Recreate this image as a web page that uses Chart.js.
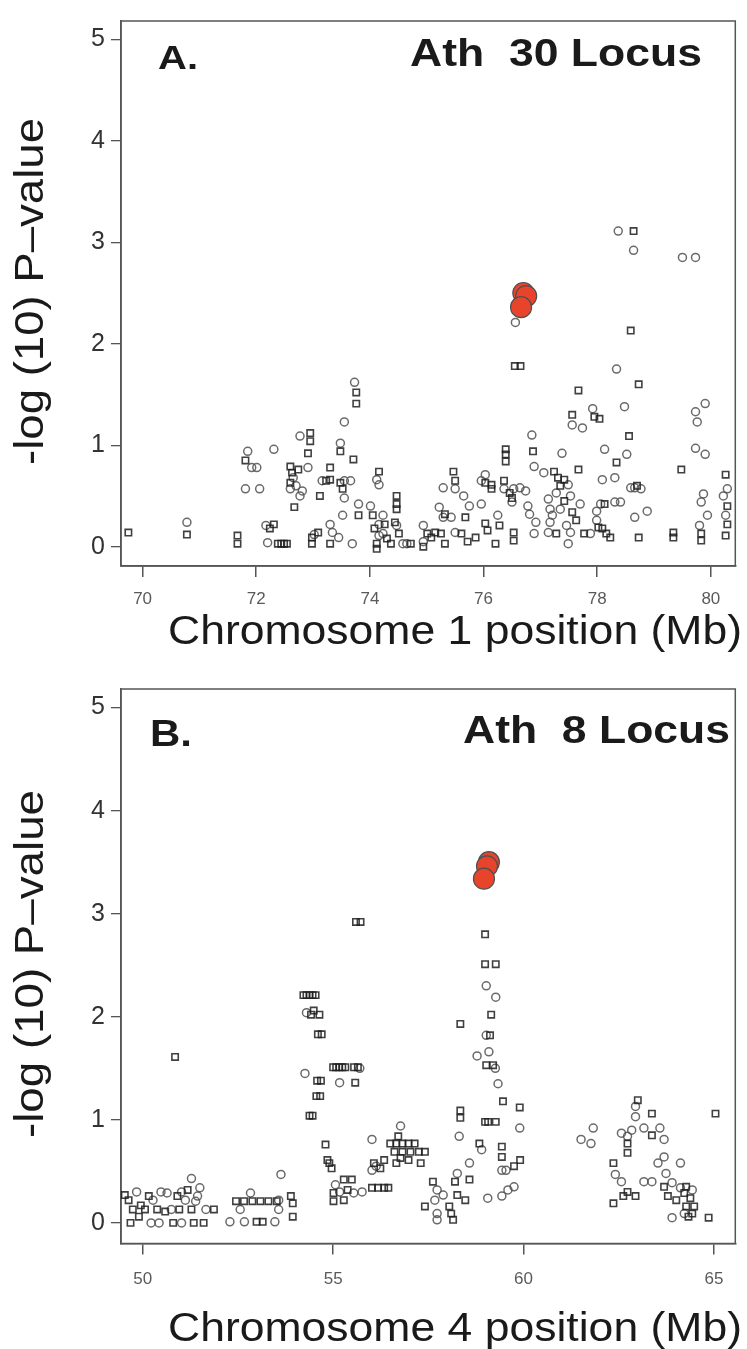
<!DOCTYPE html>
<html>
<head>
<meta charset="utf-8">
<script src="https://cdn.jsdelivr.net/npm/chart.js@4"></script>
<style>
  html, body { margin: 0; padding: 0; background: #fff; }
  .panel { position: absolute; left: 0; width: 747px; }
  #wrapA { top: 0; height: 656px; }
  #wrapB { top: 656px; height: 693px; }
</style>
</head>
<body>
<div class="panel" id="wrapA"><canvas id="chartA" width="747" height="656"></canvas></div>
<div class="panel" id="wrapB"><canvas id="chartB" width="747" height="693"></canvas></div>
<script>
const FONT = '"Liberation Sans", Arial, Helvetica, sans-serif';

// tick labels
const yTicks = [0, 1, 2, 3, 4, 5];
const aXTicks = [70, 72, 74, 76, 78, 80];
const bXTicks = [50, 55, 60, 65];

// panel A: chromosome 1 (Mb, -log10 p)
const aSquares = [[69.75,0.14],[70.78,0.12],[71.67,0.11],[71.67,0.03],[71.81,0.85],[72.31,0.22],[72.24,0.18],[72.38,0.03],[72.44,0.03],[72.49,0.03],[72.54,0.03],[72.60,0.79],[72.63,0.73],[72.60,0.63],[72.74,0.76],[72.67,0.39],[72.95,1.12],[72.95,1.04],[72.91,0.92],[72.98,0.09],[73.09,0.14],[72.98,0.03],[73.12,0.50],[73.23,0.65],[73.30,0.66],[73.30,0.78],[73.30,0.03],[73.48,0.94],[73.48,0.63],[73.52,0.57],[73.76,1.52],[73.76,1.41],[73.71,0.86],[73.80,0.31],[74.08,0.18],[74.26,0.22],[74.30,0.08],[74.37,0.03],[74.44,0.24],[74.51,0.13],[74.72,0.03],[74.12,0.03],[74.12,-0.02],[74.05,0.31],[74.47,0.50],[74.47,0.42],[74.47,0.37],[74.16,0.74],[74.94,0.0],[75.01,0.13],[75.08,0.09],[75.15,0.14],[75.25,0.13],[75.32,0.03],[75.32,0.32],[75.47,0.74],[75.50,0.65],[75.61,0.13],[75.72,0.05],[75.86,0.09],[75.68,0.29],[76.03,0.63],[76.14,0.61],[76.14,0.57],[76.03,0.23],[76.07,0.16],[76.28,0.21],[76.21,0.03],[76.36,0.65],[76.39,0.96],[76.39,0.91],[76.39,0.84],[76.46,0.53],[76.50,0.48],[76.53,0.14],[76.53,0.06],[76.55,1.78],[76.65,1.78],[76.87,0.94],[77.24,0.74],[77.31,0.68],[77.35,0.60],[77.42,0.66],[77.42,0.45],[77.28,0.13],[77.56,0.34],[77.63,0.26],[77.56,1.30],[77.67,1.54],[77.67,0.76],[77.77,0.13],[77.95,1.28],[78.04,1.26],[78.13,0.42],[78.02,0.19],[78.09,0.18],[78.16,0.13],[78.23,0.09],[78.34,0.83],[78.56,1.09],[78.73,1.60],[78.70,0.60],[78.73,0.09],[78.64,3.11],[78.59,2.13],[79.34,0.14],[79.34,0.09],[79.48,0.76],[79.83,0.13],[79.83,0.06],[80.26,0.71],[80.29,0.40],[80.29,0.22],[80.26,0.11]];
const aCircles = [[70.78,0.24],[71.85,0.94],[71.92,0.78],[72.01,0.78],[71.81,0.57],[72.06,0.57],[72.31,0.96],[72.17,0.21],[72.20,0.04],[72.65,0.68],[72.70,0.60],[72.60,0.57],[72.77,0.50],[72.81,0.55],[72.77,1.09],[72.91,0.78],[73.02,0.12],[73.16,0.65],[73.30,0.22],[73.34,0.14],[73.45,0.09],[73.52,0.31],[73.48,1.02],[73.55,1.23],[73.55,0.65],[73.66,0.65],[73.55,0.48],[73.69,0.03],[73.73,1.62],[73.80,0.42],[74.16,0.11],[74.23,0.13],[74.47,0.21],[74.58,0.03],[74.65,0.03],[74.01,0.40],[74.16,0.22],[74.23,0.31],[74.12,0.66],[74.16,0.61],[74.94,0.21],[74.94,0.05],[75.29,0.29],[75.29,0.58],[75.50,0.57],[75.65,0.50],[75.22,0.39],[75.43,0.29],[75.50,0.14],[75.75,0.40],[75.96,0.42],[76.03,0.71],[75.96,0.65],[76.25,0.31],[76.36,0.57],[76.53,0.57],[76.50,0.44],[76.56,2.21],[76.64,0.58],[76.74,0.55],[76.85,1.10],[76.89,0.79],[76.78,0.40],[76.81,0.32],[76.92,0.24],[76.89,0.13],[77.06,0.73],[77.14,0.47],[77.17,0.37],[77.28,0.53],[77.49,0.61],[77.53,0.50],[77.35,0.37],[77.21,0.31],[77.17,0.24],[77.14,0.14],[77.46,0.21],[77.53,0.14],[77.38,0.92],[77.49,0.03],[77.56,1.20],[77.74,1.17],[77.70,0.42],[77.88,0.13],[77.92,1.36],[77.99,0.35],[78.06,0.42],[77.99,0.26],[78.13,0.96],[78.09,0.66],[78.31,0.68],[78.31,0.44],[78.41,0.44],[78.48,1.38],[78.52,0.91],[78.34,1.75],[78.37,3.11],[78.64,2.92],[78.59,0.58],[78.66,0.58],[78.77,0.57],[78.66,0.29],[78.88,0.35],[79.50,2.85],[79.73,2.85],[79.73,1.33],[79.76,1.23],[79.90,1.41],[79.73,0.97],[79.90,0.91],[79.87,0.52],[79.83,0.44],[79.94,0.31],[79.80,0.21],[80.29,0.57],[80.22,0.50],[80.26,0.31]];
const aLead = [[76.70,2.50],[76.75,2.47],[76.66,2.36]];

// panel B: chromosome 4
const bSquares = [[49.53,0.27],[49.63,0.22],[49.95,0.17],[49.74,0.13],[49.90,0.06],[49.68,0.0],[50.16,0.26],[50.06,0.13],[50.38,0.13],[50.59,0.11],[50.80,0.0],[50.91,0.26],[50.96,0.13],[51.18,0.32],[51.28,0.13],[51.34,0.0],[51.87,0.13],[51.60,0.0],[50.85,1.61],[52.45,0.21],[52.66,0.21],[52.88,0.21],[53.09,0.21],[53.30,0.21],[53.52,0.21],[52.99,0.01],[53.15,0.01],[53.89,0.26],[53.94,0.19],[53.94,0.06],[54.22,2.21],[54.30,2.21],[54.38,2.21],[54.46,2.21],[54.54,2.21],[54.49,2.06],[54.42,2.02],[54.64,2.02],[54.60,1.83],[54.70,1.83],[54.58,1.38],[54.68,1.38],[54.56,1.23],[54.66,1.23],[54.38,1.04],[54.46,1.04],[55.00,1.51],[55.08,1.51],[55.16,1.51],[55.24,1.51],[55.32,1.51],[55.55,1.51],[55.65,1.51],[55.58,1.36],[55.60,2.92],[55.72,2.92],[54.80,0.76],[54.85,0.61],[54.90,0.58],[54.96,0.53],[55.28,0.42],[55.49,0.42],[55.01,0.29],[55.38,0.32],[55.01,0.21],[55.28,0.22],[56.07,0.58],[56.24,0.53],[56.34,0.61],[56.02,0.34],[56.18,0.34],[56.34,0.34],[56.45,0.34],[56.71,0.84],[56.50,0.77],[56.66,0.77],[56.82,0.77],[56.98,0.77],[57.14,0.77],[56.61,0.69],[56.82,0.69],[57.03,0.69],[57.25,0.69],[57.41,0.69],[56.77,0.63],[56.66,0.58],[56.98,0.61],[57.30,0.58],[57.41,0.16],[57.62,0.40],[58.05,0.16],[58.10,0.09],[58.15,0.03],[58.20,0.40],[58.26,0.27],[58.47,0.22],[58.58,0.42],[58.34,1.93],[58.34,1.09],[58.34,1.02],[58.84,0.77],[58.99,0.98],[59.07,0.98],[59.27,0.98],[58.99,2.80],[58.99,2.51],[59.27,2.51],[59.15,2.02],[59.12,1.82],[59.02,1.53],[59.20,1.53],[59.46,1.18],[59.90,1.12],[59.91,0.61],[59.75,0.55],[59.43,0.74],[59.43,0.64],[62.36,0.58],[62.73,0.30],[62.94,0.26],[62.36,0.19],[62.62,0.26],[62.73,0.77],[62.73,0.68],[63.00,1.19],[63.37,1.06],[63.37,0.85],[63.69,0.35],[64.27,0.35],[63.79,0.26],[64.01,0.22],[64.22,0.29],[64.27,0.16],[64.38,0.24],[64.48,0.16],[64.43,0.09],[64.33,0.06],[64.86,0.05],[65.04,1.06]];
const bCircles = [[49.84,0.30],[50.22,0.0],[50.43,0.0],[50.48,0.30],[50.75,0.13],[51.02,0.0],[51.12,0.22],[51.28,0.43],[51.44,0.26],[51.50,0.34],[51.66,0.13],[51.39,0.21],[50.27,0.22],[50.64,0.29],[51.02,0.30],[52.29,0.01],[52.56,0.13],[52.83,0.29],[52.67,0.01],[53.47,0.01],[53.63,0.47],[53.57,0.22],[53.57,0.13],[54.26,1.45],[54.30,2.04],[55.17,1.36],[55.70,1.50],[55.06,0.37],[55.17,0.30],[55.54,0.29],[55.76,0.30],[56.02,0.81],[56.13,0.55],[56.02,0.51],[56.77,0.94],[57.67,0.22],[57.73,0.32],[57.89,0.27],[57.73,0.09],[57.73,0.03],[58.26,0.48],[58.31,0.84],[58.58,0.58],[58.90,0.71],[58.78,1.62],[59.09,1.66],[59.26,1.50],[59.02,1.82],[59.02,2.30],[59.27,2.19],[59.33,1.35],[59.90,0.92],[59.06,0.24],[59.43,0.26],[59.59,0.32],[59.75,0.35],[59.43,0.51],[59.54,0.51],[61.51,0.81],[61.77,0.77],[61.83,0.92],[62.41,0.47],[62.57,0.40],[63.16,0.40],[63.37,0.40],[62.57,0.87],[62.73,0.84],[62.84,0.90],[62.94,1.13],[62.94,1.03],[63.16,0.92],[63.58,0.92],[63.69,0.81],[63.53,0.58],[63.69,0.64],[64.12,0.58],[63.74,0.48],[63.90,0.39],[64.12,0.34],[64.43,0.32],[64.22,0.09],[63.90,0.05]];
const bLead = [[59.09,3.50],[59.04,3.46],[58.96,3.34]];

// draw a text stretched to a given length (the source font is wider than Arial)
function fitText(ctx, t) {
  ctx.save();
  ctx.font = (t.bold ? 'bold ' : '') + t.size + 'px ' + FONT;
  ctx.fillStyle = '#1a1a1a';
  ctx.textAlign = 'left';
  ctx.textBaseline = 'alphabetic';
  const w = ctx.measureText(t.text).width;
  ctx.translate(t.x, t.y);
  if (t.rotate) ctx.rotate(-Math.PI / 2);
  ctx.scale(t.len / w, 1);
  ctx.fillText(t.text, 0, 0);
  ctx.restore();
}

function decor(texts) {
  return {
    id: 'decor',
    beforeDatasetsDraw(chart) {
      const { ctx, chartArea: a } = chart;
      ctx.save();
      ctx.strokeStyle = '#555';
      ctx.lineWidth = 1.5;
      ctx.strokeRect(a.left, a.top, a.right - a.left, a.bottom - a.top);
      ctx.restore();
    },
    afterDraw(chart) {
      texts.forEach(t => fitText(chart.ctx, t));
    }
  };
}

const toPts = arr => arr.map(([x, y]) => ({ x, y }));

function makeChart(id, p) {
  new Chart(document.getElementById(id).getContext('2d'), {
    type: 'scatter',
    data: {
      datasets: [
        { data: toPts(p.squares), pointStyle: 'rect', pointRadius: 4.5, borderWidth: 1.6,
          borderColor: 'rgba(30,30,30,0.85)', backgroundColor: 'rgba(0,0,0,0)' },
        { data: toPts(p.circles), pointStyle: 'circle', pointRadius: 4, borderWidth: 1.5,
          borderColor: 'rgba(80,80,80,0.85)', backgroundColor: 'rgba(0,0,0,0)' },
        { data: toPts(p.lead), pointStyle: 'circle', pointRadius: 10.5, borderWidth: 1.2,
          borderColor: '#505050', backgroundColor: '#e8432b' }
      ]
    },
    options: {
      responsive: false,
      animation: false,
      devicePixelRatio: 1,
      events: [],
      layout: { padding: { top: p.top, right: p.right, left: 0, bottom: 0 } },
      plugins: { legend: { display: false }, tooltip: { enabled: false } },
      scales: {
        x: {
          type: 'linear', min: p.xMin, max: p.xMax,
          afterFit: s => { s.height = p.xAxisH; },
          afterBuildTicks: s => { s.ticks = p.xTicks.map(v => ({ value: v })); },
          grid: { drawOnChartArea: false, tickLength: 11, color: '#555', lineWidth: 1.5 },
          border: { color: '#555', width: 1.5 },
          ticks: { padding: p.xPad, color: '#5a5a5a', maxRotation: 0, autoSkip: false,
                   font: { family: FONT, size: 17 } }
        },
        y: {
          min: p.yMin, max: p.yMax,
          afterFit: s => { s.width = 121; },
          afterBuildTicks: s => { s.ticks = yTicks.map(v => ({ value: v })); },
          grid: { drawOnChartArea: false, tickLength: 10, color: '#555', lineWidth: 1.3 },
          border: { color: '#555', width: 1.5 },
          ticks: { padding: 6, color: '#333', font: { family: FONT, size: 25 } }
        }
      }
    },
    plugins: [decor(p.texts)]
  });
}

makeChart('chartA', {
  squares: aSquares, circles: aCircles, lead: aLead, xTicks: aXTicks,
  xMin: 69.62, xMax: 80.43, yMin: -0.19, yMax: 5.18,
  top: 11, right: 4, xAxisH: 90, xPad: 12,
  texts: [
    { text: 'A.', bold: true, size: 34, x: 158, y: 69, len: 40 },
    { text: 'Ath  30 Locus', bold: true, size: 38, x: 410, y: 66, len: 292 },
    { text: 'Chromosome 1 position (Mb)', size: 40, x: 168, y: 644, len: 574 },
    { text: '-log (10) P\u2013value', size: 40, rotate: true, x: 43, y: 465, len: 347 }
  ]
});

makeChart('chartB', {
  squares: bSquares, circles: bCircles, lead: bLead, xTicks: bXTicks,
  xMin: 49.43, xMax: 65.56, yMin: -0.2, yMax: 5.18,
  top: 33, right: 7.5, xAxisH: 105.5, xPad: 15,
  texts: [
    { text: 'B.', bold: true, size: 36, x: 150, y: 90, len: 42 },
    { text: 'Ath  8 Locus', bold: true, size: 39, x: 463, y: 87, len: 267 },
    { text: 'Chromosome 4 position (Mb)', size: 41, x: 168, y: 685, len: 574 },
    { text: '-log (10) P\u2013value', size: 40, rotate: true, x: 43, y: 482, len: 348 }
  ]
});
</script>
</body>
</html>
